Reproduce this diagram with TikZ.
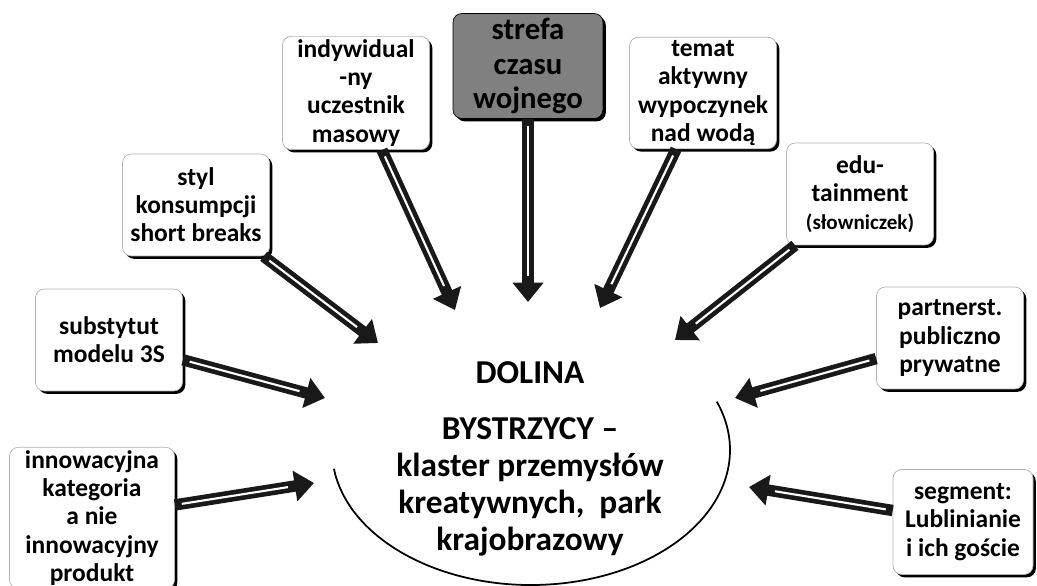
\documentclass[tikz,border=0pt]{standalone}
\usepackage{fontspec}
\setmainfont{Carlito}
\usetikzlibrary{arrows.meta, shadows}

\begin{document}
\begin{tikzpicture}[
  x=0.02cm, y=-0.02cm,
  box/.style={draw=black!30, fill=white, rounded corners=5pt, align=center,
    minimum width=2.94cm, minimum height=2.04cm, inner sep=2pt,
    font=\fontsize{14.5}{16}\selectfont\bfseries,
    drop shadow={shadow xshift=1.6pt, shadow yshift=-1.6pt, fill=black, opacity=1}},
  darkbox/.style={box, fill=black!50, draw=black, inner sep=0pt,
    font=\fontsize{17.5}{19.5}\selectfont\bfseries},
  arr/.style={-{Triangle[length=11pt, width=17pt]}, line width=6.5pt, black!90,
    postaction={draw=white, line width=1.2pt, -, shorten >=15pt, shorten <=4pt}},
  hub/.style={align=center, font=\fontsize{19}{21}\selectfont\bfseries},
]
  \useasboundingbox (0,0) rectangle (1037,585);

  \node[box]     (indy)   at (356,93)  {indywidual\\-ny\\uczestnik\\masowy};
  \node[darkbox, minimum width=3cm, minimum height=2.1cm]
                 (strefa) at (528,66)  {strefa\\czasu\\wojnego};
  \node[box]     (temat)  at (703,93)  {temat\\aktywny\\wypoczynek\\nad wodą};
  \node[box]     (styl)   at (196,205) {styl\\konsumpcji\\short breaks};
  \node[box]     (edu)    at (860,194) {edu-\\tainment\\{\fontsize{12}{14}\selectfont(słowniczek)}};
  \node[box]     (sub)    at (109,340) {substytut\\modelu 3S};
  \node[box]     (part)   at (950,338) {partnerst.\\publiczno\\prywatne};
  \node[box, minimum width=3.3cm, minimum height=2.7cm]
                 (inno)   at (92,518)  {innowacyjna\\kategoria\\a nie\\innowacyjny\\produkt};
  \node[box, minimum width=2.8cm, minimum height=2.1cm]
                 (seg)    at (963,522) {segment:\\Lublinianie\\i ich goście};

  \coordinate (hubc) at (531,450);
  \node[hub] (dolina) at (530,459)
    {DOLINA\\[11pt]BYSTRZYCY --\\klaster przemysłów\\kreatywnych,~ park\\krajobrazowy};
  \draw[line width=1pt] (hubc) ++(172:199 and 135)
    arc[start angle=172, end angle=-21, x radius=199, y radius=135];

  \coordinate (tIndy)   at (455,310);
  \coordinate (tStrefa) at (528,302);
  \coordinate (tTemat)  at (600,308);
  \coordinate (tStyl)   at (378,343);
  \coordinate (tEdu)    at (675,340);
  \coordinate (tSub)    at (325,398);
  \coordinate (tPart)   at (735,398);
  \coordinate (tInno)   at (314,483);
  \coordinate (tSeg)    at (749,487);

  \draw[arr] (indy)   -- (tIndy);
  \draw[arr] (strefa) -- (tStrefa);
  \draw[arr] (temat)  -- (tTemat);
  \draw[arr] (styl)   -- (tStyl);
  \draw[arr] (edu)    -- (tEdu);
  \draw[arr] (sub)    -- (tSub);
  \draw[arr] (part)   -- (tPart);
  \draw[arr] (inno)   -- (tInno);
  \draw[arr] (seg)    -- (tSeg);
\end{tikzpicture}
\end{document}
